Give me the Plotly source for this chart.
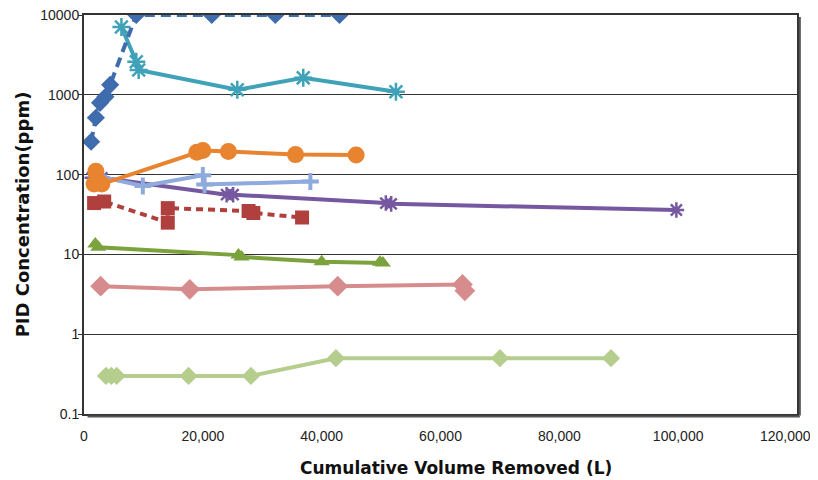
import plotly.graph_objects as go

# ---- data ----
blue_x = [1200, 2000, 2700, 3600, 4400, 8800, 21500, 32200, 43000]
blue_y = [258, 516, 794, 944, 1334, 10000, 10000, 10000, 10000]

teal_x = [6300, 8800, 9200, 25800, 36900, 52500]
teal_y = [7080, 2600, 2050, 1155, 1630, 1090]

orange_x = [2000, 1700, 3000, 19000, 20000, 24300, 35600, 45800]
orange_y = [110, 76, 76, 190, 200, 195, 178, 176]

lblue_x = [2500, 9900, 20000, 20300, 38100]
lblue_y = [95, 72, 98, 75, 82]

purple_x = [1400, 3000, 24000, 25100, 50800, 51700, 99700]
purple_y = [91, 91, 56, 56, 44, 43, 36]

red_x = [1700, 3400, 14100, 14100, 27700, 28500, 36700]
red_y = [44, 46, 25, 38, 35, 33, 29]

green_x = [1900, 2400, 26000, 26500, 40000, 49800, 50300]
green_y = [13.5, 12.3, 9.8, 9.3, 8.1, 8.0, 7.8]

pink_x = [2800, 17800, 42700, 63700, 64100]
pink_y = [4.0, 3.65, 4.0, 4.2, 3.5]

lgreen_x = [3700, 4600, 5500, 17600, 28100, 42400, 70000, 88700]
lgreen_y = [0.3, 0.3, 0.3, 0.3, 0.3, 0.5, 0.5, 0.5]

x_ticks = [0, 20000, 40000, 60000, 80000, 100000, 120000]
x_tick_text = ["0", "20,000", "40,000", "60,000", "80,000", "100,000", "120,000"]
y_ticks = [0.1, 1, 10, 100, 1000, 10000]
y_tick_text = ["0.1", "1", "10", "100", "1000", "10000"]
x_title = "Cumulative Volume Removed (L)"
y_title = "PID Concentration(ppm)"

fig = go.Figure()

def add(x, y, color, symbol, size, dash="solid", mline=0, mcolor=None):
    fig.add_trace(go.Scatter(
        x=x, y=y, mode="lines+markers",
        line=dict(color=color, width=4, dash=dash),
        marker=dict(symbol=symbol, size=size, color=mcolor or color,
                    line=dict(color=color, width=mline)),
        showlegend=False, hoverinfo="x+y"))

add(lgreen_x, lgreen_y, "#B5CD8D", "diamond", 14)
add(pink_x, pink_y, "#D68C8C", "diamond", 16)
add(green_x, green_y, "#7BA23C", "triangle-up", 14)
add(red_x, red_y, "#B0403D", "square", 14, dash="7px,5px")
add(purple_x, purple_y, "#7658A0", "asterisk-open", 13, mline=2.5)
add(lblue_x, lblue_y, "#8FAADC", "cross-thin-open", 12, mline=4)
add(orange_x, orange_y, "#E8832F", "circle", 17)
add(teal_x, teal_y, "#3FA2B9", "asterisk-open", 15, mline=2.5)
add(blue_x, blue_y, "#3F6CAD", "diamond", 14, dash="10px,6px")

tick_font = dict(family="Liberation Sans, sans-serif", size=14, color="#222")
x_title_font = dict(family="DejaVu Sans, sans-serif", size=17, color="#111")
y_title_font = dict(family="DejaVu Sans, sans-serif", size=18, color="#111")

# all tick labels but the last come from the axis; the last is placed so it stays inside the page
shown_ticktext = x_tick_text[:-1] + [""]

# the page body adds an 8px offset, so the figure is sized to fit the window
fig.update_layout(
    width=810, height=472,
    margin=dict(l=76, r=21, t=7, b=66),
    paper_bgcolor="white", plot_bgcolor="white",
    xaxis=dict(range=[0, 120000], tickvals=x_ticks, ticktext=shown_ticktext,
               showgrid=False, zeroline=False, showline=True, mirror=True,
               linecolor="#333", linewidth=2, tickfont=tick_font, ticks="",
               automargin=False, ticklabeloverflow="allow", ticklabelstandoff=8),
    yaxis=dict(type="log", range=[-1, 4], tickvals=y_ticks, ticktext=y_tick_text,
               showgrid=True, gridcolor="#333", gridwidth=1, zeroline=False,
               showline=True, mirror=True, linecolor="#333", linewidth=2,
               ticks="outside", ticklen=4, tickcolor="#333", tickfont=tick_font,
               automargin=False, ticklabeloverflow="allow", ticklabelstandoff=-4,
               title=dict(text="<b>" + y_title + "</b>", font=y_title_font, standoff=6)),
    annotations=[
        dict(text=x_tick_text[-1], xref="paper", yref="paper", x=1, y=0,
             xanchor="right", yanchor="middle", xshift=16, yshift=-22,
             showarrow=False, font=tick_font),
        dict(text="<b>" + x_title + "</b>", xref="paper", yref="paper", x=0.522, y=0,
             xanchor="center", yanchor="middle", yshift=-54,
             showarrow=False, font=x_title_font),
    ],
)

# subtle drop shadow on right and bottom of the frame
fig.add_shape(type="line", xref="paper", yref="paper", x0=1.004, x1=1.004, y0=-0.004, y1=0.995,
              line=dict(color="#555", width=2))
fig.add_shape(type="line", xref="paper", yref="paper", x0=0.005, x1=1.004, y0=-0.006, y1=-0.006,
              line=dict(color="#555", width=2))

fig.write_html("out.html")
